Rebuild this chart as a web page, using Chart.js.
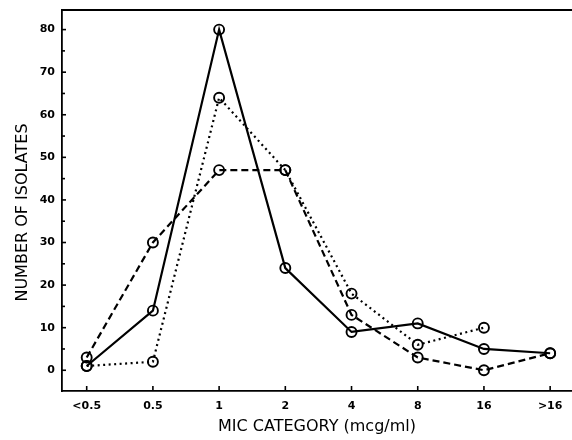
<!DOCTYPE html>
<html>
<head>
<meta charset="utf-8">
<script src="https://cdn.jsdelivr.net/npm/chart.js@4.4.0/dist/chart.umd.min.js"></script>
<style>
  html, body { margin: 0; padding: 0; background: #fff; }
  #wrap { width: 572px; height: 440px; position: relative; }
</style>
</head>
<body>
<div id="wrap"><canvas id="c" width="572" height="440"></canvas></div>
<script>
// ---- data ----
const categories = ['<0.5', '0.5', '1', '2', '4', '8', '16', '>16'];
const seriesSolid  = [1, 14, 80, 24, 9, 11, 5, 4];
const seriesDashed = [3, 30, 47, 47, 13, 3, 0, 4];
const seriesDotted = [1, 2, 64, 47, 18, 6, 10, null];
const yTickValues = [0, 5, 10, 15, 20, 25, 30, 35, 40, 45, 50, 55, 60, 65, 70, 75, 80];
const yLabelStep = 10;
const xTitle = 'MIC CATEGORY (mcg/ml)';
const yTitle = 'NUMBER OF ISOLATES';

const toPoints = arr => arr.map((v, i) => ({ x: i, y: v }));

const FONT = '"DejaVu Sans", Verdana, sans-serif';

const frameTicks = {
  id: 'frameTicks',
  afterDraw(chart) {
    const ctx = chart.ctx;
    const a = chart.chartArea;
    const xs = chart.scales.x, ys = chart.scales.y;
    ctx.save();
    ctx.strokeStyle = '#000';
    ctx.lineWidth = 1.8;
    // top frame line
    ctx.beginPath();
    ctx.moveTo(a.left, a.top);
    ctx.lineTo(a.right, a.top);
    ctx.stroke();
    ctx.lineWidth = 1.6;
    // inward y ticks
    ys.ticks.forEach(t => {
      const py = ys.getPixelForValue(t.value);
      const len = (t.value % yLabelStep === 0) ? 4 : 3;
      ctx.beginPath();
      ctx.moveTo(a.left, py);
      ctx.lineTo(a.left + len, py);
      ctx.stroke();
    });
    // inward x ticks
    xs.ticks.forEach(t => {
      const px = xs.getPixelForValue(t.value);
      ctx.beginPath();
      ctx.moveTo(px, a.bottom);
      ctx.lineTo(px, a.bottom - 5);
      ctx.stroke();
    });
    // y axis title (rotated), slightly below the plot centre as in the original
    ctx.fillStyle = '#000';
    ctx.font = '16px ' + FONT;
    ctx.textAlign = 'center';
    ctx.textBaseline = 'middle';
    ctx.translate(23, (a.top + a.bottom) / 2 + 12);
    ctx.rotate(-Math.PI / 2);
    ctx.fillText(yTitle, 0, 0);
    ctx.restore();
  }
};

const pointCommon = {
  pointRadius: 5,
  pointHoverRadius: 5,
  pointBorderWidth: 1.9,
  pointBackgroundColor: 'rgba(0,0,0,0)',
  pointBorderColor: '#000',
  borderColor: '#000',
  borderWidth: 2.2,
  tension: 0,
  fill: false,
  spanGaps: false
};

new Chart(document.getElementById('c'), {
  type: 'line',
  data: {
    datasets: [
      Object.assign({ label: 'solid', data: toPoints(seriesSolid) }, pointCommon),
      Object.assign({ label: 'dashed', data: toPoints(seriesDashed), borderDash: [7, 4] }, pointCommon),
      Object.assign({ label: 'dotted', data: toPoints(seriesDotted), borderDash: [2, 3.5] }, pointCommon)
    ]
  },
  options: {
    responsive: false,
    animation: false,
    devicePixelRatio: 1,
    layout: { autoPadding: false, padding: { top: 10, right: 0, left: 0, bottom: 0 } },
    plugins: { legend: { display: false }, tooltip: { enabled: false } },
    scales: {
      x: {
        type: 'linear',
        min: -0.373,
        max: 7.33,
        afterBuildTicks: s => { s.ticks = categories.map((_, i) => ({ value: i })); },
        afterFit: s => { s.height = 49; s.paddingLeft = 0; s.paddingRight = 0; },
        grid: { display: false, drawTicks: false },
        border: { display: true, color: '#000', width: 1.8 },
        ticks: {
          autoSkip: false,
          maxRotation: 0,
          padding: 9,
          color: '#000',
          font: { family: FONT, size: 11, weight: 'bold' },
          callback: v => categories[v]
        },
        title: {
          display: true,
          text: xTitle,
          color: '#000',
          font: { family: FONT, size: 16 },
          padding: { top: 0, bottom: 3.5 }
        }
      },
      y: {
        type: 'linear',
        min: -4.87,
        max: 84.6,
        afterBuildTicks: s => { s.ticks = yTickValues.map(v => ({ value: v })); },
        afterFit: s => { s.width = 62; s.paddingTop = 0; s.paddingBottom = 0; },
        grid: { display: false, drawTicks: false },
        border: { display: true, color: '#000', width: 1.8 },
        ticks: {
          autoSkip: false,
          padding: 7,
          color: '#000',
          font: { family: FONT, size: 11, weight: 'bold' },
          callback: v => (v % yLabelStep === 0 ? String(v) : '')
        },
        title: { display: false }
      }
    }
  },
  plugins: [frameTicks]
});
</script>
</body>
</html>
